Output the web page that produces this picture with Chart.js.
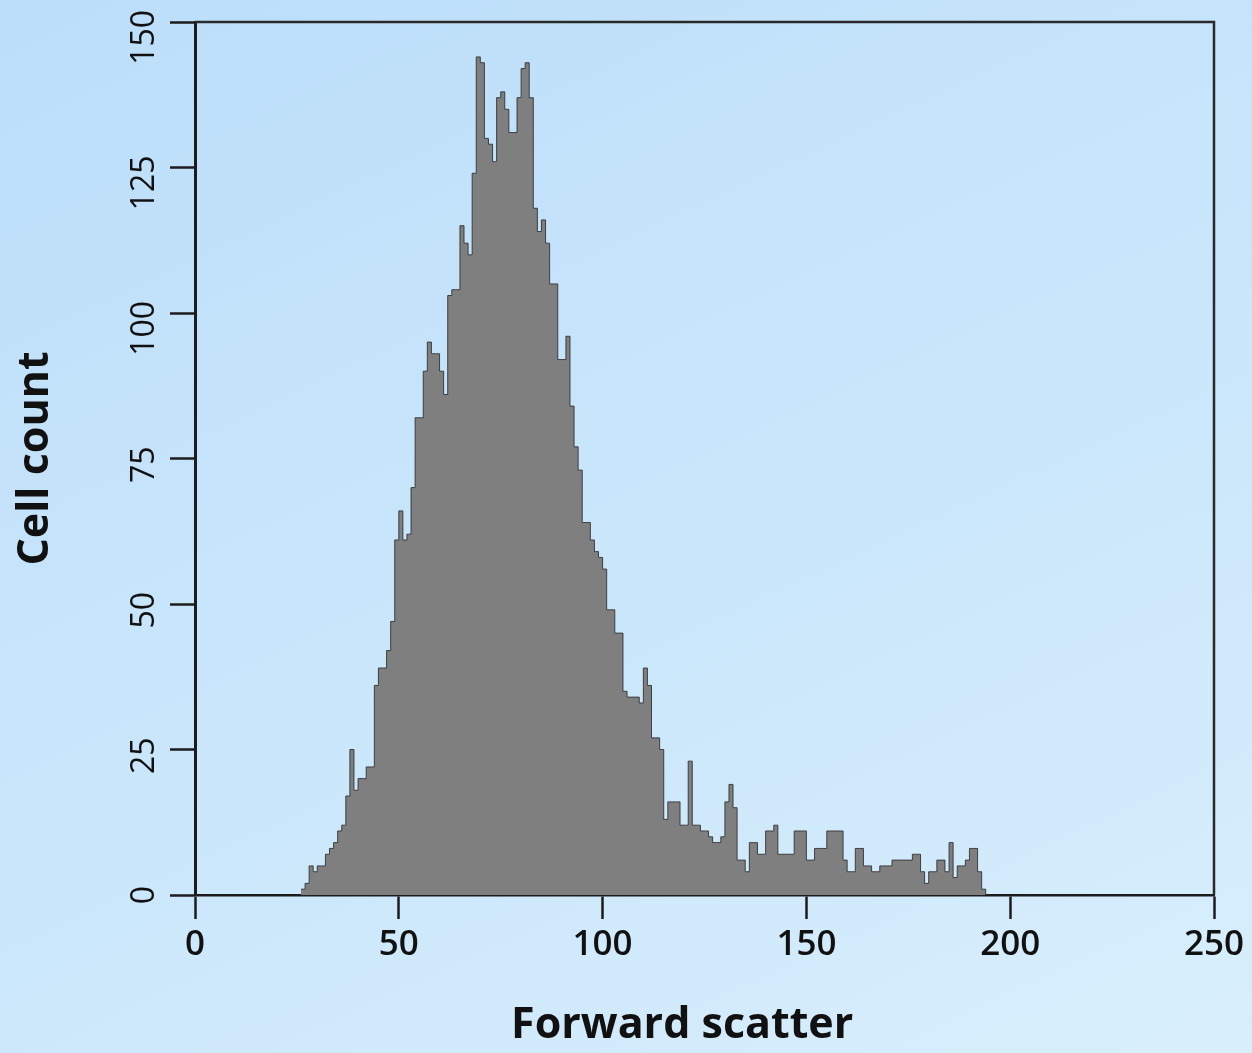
<!DOCTYPE html>
<html>
<head>
<meta charset="utf-8">
<script src="https://cdn.jsdelivr.net/npm/chart.js@4"></script>
<style>
  html, body { margin: 0; padding: 0; }
  body {
    width: 1252px; height: 1053px; overflow: hidden;
    background: linear-gradient(155deg, #bcdefa 0%, #c9e6fb 50%, #d8eefc 100%);
  }
  canvas { display: block; }
</style>
</head>
<body>
<canvas id="histChart" width="1252" height="1053"></canvas>
<script>
// histogram bins, 1 unit wide, first bin starts at 26
const firstBin = 26;
const cellCounts = [
  1, 1, 2, 5, 4, 5, 5, 7, 8, 9,            // 26-35
  11, 12, 17, 25, 18, 20, 20, 22, 22, 36,  // 36-45
  39, 39, 42, 47, 61, 66, 61, 62, 70, 82,  // 46-55
  82, 90, 95, 93, 93, 90, 86, 103, 104, 104, // 56-65
  115, 112, 110, 124, 144, 143, 130, 129, 126, 137, // 66-75
  138, 135, 131, 131, 137, 142, 143, 137, 118, 114, // 76-85
  116, 112, 105, 105, 92, 92, 96, 84, 77, 73, // 86-95
  64, 64, 61, 59, 58, 56, 49, 49, 45, 45,  // 96-105
  35, 34, 34, 34, 33, 39, 36, 27, 27, 25,  // 106-115
  13, 16, 16, 16, 12, 12, 23, 12, 12, 11,  // 116-125
  11, 10, 9, 9, 10, 16, 19, 15, 6, 6,      // 126-135
  4, 9, 9, 7, 7, 11, 11, 12, 7, 7,         // 136-145
  7, 7, 11, 11, 11, 6, 6, 8, 8, 8,         // 146-155
  11, 11, 11, 11, 6, 4, 4, 8, 8, 5,        // 156-165
  5, 4, 4, 5, 5, 5, 6, 6, 6, 6,            // 166-175
  6, 7, 7, 4, 2, 4, 4, 6, 6, 4,            // 176-185
  9, 3, 5, 5, 6, 8, 8, 4, 1                // 186-194
];
const xTicks = [0, 50, 100, 150, 200, 250];
const yTicks = [0, 25, 50, 75, 100, 125, 150];

// stepped points: left edge of each bin, then close at the last edge
const points = cellCounts.map((c, i) => ({ x: firstBin + i, y: c }));
points.push({ x: firstBin + cellCounts.length, y: 0 });

const axisColor = '#1c1c1c';

// top and right frame of the plot box
const frameBox = {
  id: 'frameBox',
  afterDraw(chart) {
    const { ctx, chartArea: a } = chart;
    ctx.save();
    ctx.strokeStyle = '#2a2a2a';
    ctx.lineWidth = 2.5;
    ctx.beginPath();
    ctx.moveTo(a.left, a.top);
    ctx.lineTo(a.right, a.top);
    ctx.lineTo(a.right, a.bottom);
    ctx.stroke();
    ctx.restore();
  }
};

// y tick labels, turned to read upwards, sitting mostly below their tick
const yLabels = {
  id: 'yLabels',
  afterDraw(chart) {
    const { ctx } = chart;
    const scale = chart.scales.y;
    ctx.save();
    ctx.font = '32px "Open Sans"';
    ctx.fillStyle = '#111';
    ctx.textAlign = 'center';
    ctx.textBaseline = 'middle';
    scale.ticks.forEach(t => {
      const text = String(t.value);
      const w = ctx.measureText(text).width;
      const py = scale.getPixelForValue(t.value) + Math.max(0, w / 2 - 12);
      ctx.save();
      ctx.translate(scale.right - 50, py);
      ctx.rotate(-Math.PI / 2);
      ctx.fillText(text, 0, 0);
      ctx.restore();
    });
    ctx.restore();
  }
};

new Chart(document.getElementById('histChart'), {
  type: 'line',
  data: {
    datasets: [{
      data: points,
      stepped: 'after',
      fill: 'origin',
      backgroundColor: '#7f7f7f',
      borderColor: 'rgba(45,45,45,0.85)',
      borderWidth: 1,
      pointRadius: 0
    }]
  },
  options: {
    responsive: false,
    animation: false,
    layout: { padding: { top: 22, right: 38, left: 0, bottom: 0 } },
    plugins: { legend: { display: false }, tooltip: { enabled: false } },
    scales: {
      x: {
        type: 'linear',
        min: 0, max: 250,
        afterBuildTicks(scale) { scale.ticks = xTicks.map(v => ({ value: v })); },
        afterFit(scale) { scale.height = 158; },
        grid: { drawOnChartArea: false, tickLength: 24, tickColor: axisColor, tickWidth: 2.5 },
        border: { display: true, color: axisColor, width: 2.5 },
        ticks: {
          color: '#111',
          padding: 5,
          maxRotation: 0,
          font: { family: 'Open Sans', size: 35, weight: '600' }
        },
        title: {
          display: true,
          text: 'Forward scatter    ',
          color: '#111',
          padding: { top: 0, bottom: 1 },
          font: { family: 'Open Sans', size: 43, weight: 'bold' }
        }
      },
      y: {
        min: 0, max: 150,
        afterBuildTicks(scale) { scale.ticks = yTicks.map(v => ({ value: v })); },
        afterFit(scale) { scale.width = 195; },
        grid: { drawOnChartArea: false, tickLength: 25, tickColor: axisColor, tickWidth: 2.5 },
        border: { display: true, color: axisColor, width: 3 },
        ticks: { display: false },
        title: {
          display: true,
          text: 'Cell count',
          color: '#111',
          padding: { top: 10, bottom: 0 },
          font: { family: 'Open Sans', size: 43, weight: 'bold' }
        }
      }
    }
  },
  plugins: [frameBox, yLabels]
});
</script>
</body>
</html>
